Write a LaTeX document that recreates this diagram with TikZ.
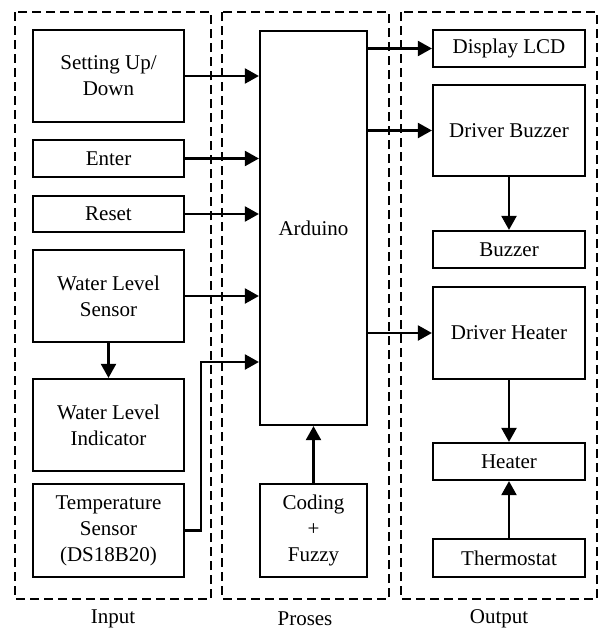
\documentclass[tikz,border=0pt]{standalone}
\usepackage{fontspec}
\setmainfont{Liberation Serif}
\usepackage{tikz}
\usetikzlibrary{arrows.meta}
\tikzset{
  kotak/.style={draw=black,line width=2.2pt,align=center,inner sep=2pt,minimum width=151pt},
  grup/.style={draw=black,line width=1.3pt,dash pattern=on 9pt off 5pt},
  panah/.style={-{Triangle[length=14pt,width=15pt]},line width=2.2pt},
  judul/.style={inner sep=0pt}
}
\begin{document}
\begin{tikzpicture}[x=1pt,y=-1pt,font=\fontsize{21}{26}\selectfont]
\useasboundingbox (0,0) rectangle (600,632);
% kelompok
\draw[grup] (15,12) rectangle (211,599);
\draw[grup] (222,12) rectangle (389,599);
\draw[grup] (401,12) rectangle (597,599);
\node[judul] (lin) at (113,619) {Input};
\node[judul] (lpr) at (305,619) {Proses};
\node[judul] (lout) at (499,619) {Output};
% input
\node[kotak,minimum height=92pt] (setup) at (108.5,76) {Setting Up/\\Down};
\node[kotak,minimum height=37pt] (enter) at (108.5,158.5) {Enter};
\node[kotak,minimum height=36pt] (reset) at (108.5,214) {Reset};
\node[kotak,minimum height=92pt] (wls) at (108.5,296) {Water Level\\Sensor};
\node[kotak,minimum height=92pt] (wli) at (108.5,425) {Water Level\\Indicator};
\node[kotak,minimum height=93pt] (suhu) at (108.5,530.5) {Temperature\\Sensor\\(DS18B20)};
% proses
\node[kotak,minimum width=107pt,minimum height=394pt] (ard) at (313.5,228) {Arduino};
\node[kotak,minimum width=107pt,minimum height=93pt] (kode) at (313.5,530.5) {Coding\\+\\Fuzzy};
% output
\node[kotak,minimum width=152pt,minimum height=37pt] (lcd) at (509,48.5) {Display LCD};
\node[kotak,minimum width=152pt,minimum height=91pt] (dbuz) at (509,130.5) {Driver Buzzer};
\node[kotak,minimum width=152pt,minimum height=37pt] (buz) at (509,249.5) {Buzzer};
\node[kotak,minimum width=152pt,minimum height=92pt] (dheat) at (509,333) {Driver Heater};
\node[kotak,minimum width=152pt,minimum height=37pt] (heat) at (509,461.5) {Heater};
\node[kotak,minimum width=152pt,minimum height=38pt] (termo) at (509,558) {Thermostat};
% panah
\foreach \n in {setup,enter,reset,wls}{
  \draw[panah] (\n.east) -- (\n.east -| ard.west);}
\draw[panah] (suhu.east) -- ++(16,0) |- ([yshift=-134pt]ard.west);
\draw[panah] (wls.south) -- (wli.north);
\draw[panah] (kode.north) -- (ard.south);
\foreach \n in {lcd,dbuz,dheat}{
  \draw[panah] (ard.east |- \n.west) -- (\n.west);}
\draw[panah] (dbuz.south) -- (buz.north);
\draw[panah] (dheat.south) -- (heat.north);
\draw[panah] (termo.north) -- (heat.south);
\end{tikzpicture}
\end{document}
